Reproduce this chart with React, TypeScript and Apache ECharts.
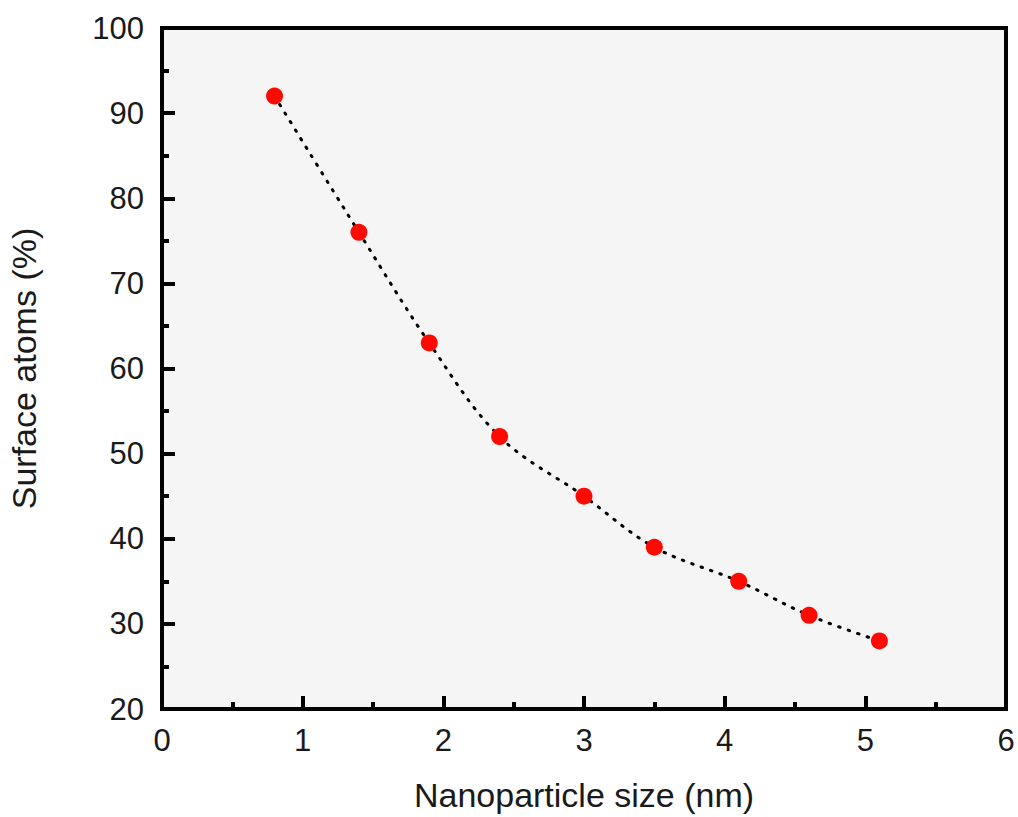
import React, { useEffect, useRef } from "react";
import * as echarts from "echarts";

const sizes = [0.8, 1.4, 1.9, 2.4, 3.0, 3.5, 4.1, 4.6, 5.1];
const surfaceAtoms = [92, 76, 63, 52, 45, 39, 35, 31, 28];
const xTitle = "Nanoparticle size (nm)";
const yTitle = "Surface atoms (%)";

export default function App() {
  const ref = useRef<HTMLDivElement>(null);
  useEffect(() => {
    document.body.style.margin = "0";
    const chart = echarts.init(ref.current!, null, { renderer: "svg" });
    const pts = sizes.map((x, i) => [x, surfaceAtoms[i]]);
    const font = "'Liberation Sans', Arial, sans-serif";
    chart.setOption({
      animation: false,
      backgroundColor: "#ffffff",
      grid: {
        left: 162,
        top: 28,
        right: 12,
        bottom: 108,
        outerBoundsMode: "none",
        containLabel: false,
        show: true,
        backgroundColor: "#f5f5f5",
        borderColor: "#000",
        borderWidth: 4,
      },
      xAxis: {
        type: "value",
        min: 0,
        max: 6,
        interval: 1,
        name: xTitle,
        nameLocation: "middle",
        nameGap: 69,
        nameTextStyle: { fontSize: 34, color: "#1a1a1a", fontFamily: font },
        axisLine: { show: true, lineStyle: { color: "#000", width: 4 } },
        axisTick: { show: true, inside: true, length: 13, lineStyle: { color: "#000", width: 4 } },
        minorTick: { show: true, splitNumber: 2, length: 7, lineStyle: { color: "#000", width: 4 } },
        axisLabel: { fontSize: 31, color: "#1a1a1a", fontFamily: font, margin: 16 },
        splitLine: { show: false },
      },
      yAxis: {
        type: "value",
        min: 20,
        max: 100,
        interval: 10,
        name: yTitle,
        nameLocation: "middle",
        nameGap: 121,
        nameTextStyle: { fontSize: 34, color: "#1a1a1a", fontFamily: font },
        axisLine: { show: true, lineStyle: { color: "#000", width: 4 } },
        axisTick: { show: true, inside: true, length: 13, lineStyle: { color: "#000", width: 4 } },
        minorTick: { show: true, splitNumber: 2, length: 7, lineStyle: { color: "#000", width: 4 } },
        axisLabel: { fontSize: 31, color: "#1a1a1a", fontFamily: font, margin: 18 },
        splitLine: { show: false },
      },
      series: [
        {
          type: "line",
          data: pts,
          smooth: 0.35,
          showSymbol: false,
          lineStyle: { color: "#000", width: 3, type: [1.5, 8.5], cap: "round" },
          z: 2,
        },
        {
          type: "scatter",
          data: pts,
          symbol: "circle",
          symbolSize: 17,
          itemStyle: { color: "#ff0a00", opacity: 1 },
          z: 3,
        },
      ],
    });
    return () => chart.dispose();
  }, []);
  return <div ref={ref} style={{ width: 1018, height: 817 }} />;
}
